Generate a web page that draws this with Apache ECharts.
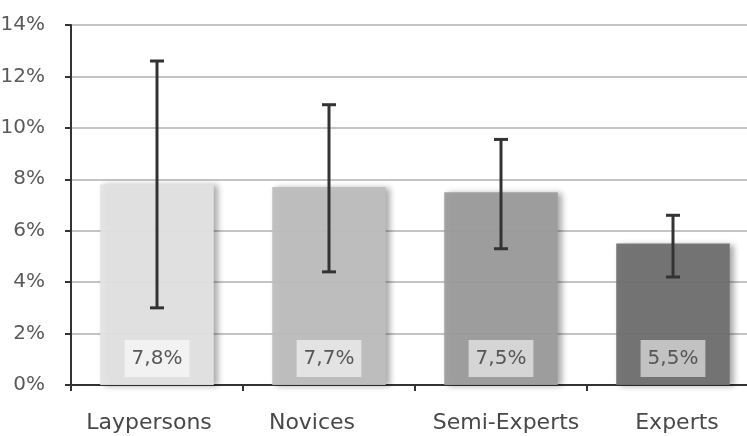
<!DOCTYPE html>
<html>
<head>
<meta charset="utf-8">
<script src="https://cdn.jsdelivr.net/npm/echarts@6/dist/echarts.min.js"></script>
<style>
  html, body { margin: 0; padding: 0; background: #fff; }
  #chart { width: 747px; height: 436px; }
</style>
</head>
<body>
<div id="chart"></div>
<script>
// data
var categories = ['Laypersons', 'Novices', 'Semi-Experts', 'Experts'];
var means = [7.8, 7.7, 7.5, 5.5];
var barLabels = ['7,8%', '7,7%', '7,5%', '5,5%'];
var errLow = [3.0, 4.4, 5.3, 4.2];
var errHigh = [12.6, 10.9, 9.55, 6.6];
var barColors = ['#e3e3e3', '#bebebe', '#9c9c9c', '#707070'];
// small horizontal nudges of the category labels, as in the original
var labelPads = [[0, 16, 0, 0], [0, 34, 0, 0], [0, 0, 0, 10], [0, 0, 0, 8]];

var chart = echarts.init(document.getElementById('chart'));

var errData = categories.map(function (c, i) {
    return [i, errLow[i], errHigh[i]];
});

var option = {
    animation: false,
    textStyle: { fontFamily: 'DejaVu Sans' },
    grid: { left: 71, top: 25, bottom: 51, width: 688, outerBoundsMode: 'none' },
    xAxis: {
        type: 'category',
        data: categories.map(function (c, i) {
            return { value: c, textStyle: { padding: labelPads[i] } };
        }),
        axisLine: { lineStyle: { color: '#333', width: 2 } },
        axisTick: { show: true, interval: 0, length: 6, alignWithLabel: false, lineStyle: { color: '#333', width: 2 } },
        axisLabel: { interval: 0, hideOverlap: false, color: '#484848', fontSize: 22, margin: 27 }
    },
    yAxis: {
        type: 'value',
        min: 0,
        max: 14,
        interval: 2,
        axisLine: { show: true, lineStyle: { color: '#333', width: 2 } },
        axisTick: { show: true, length: 6, lineStyle: { color: '#333', width: 2 } },
        axisLabel: { color: '#5a5a5a', fontSize: 20, margin: 26, formatter: '{value}%' },
        splitLine: { lineStyle: { color: '#c4c4c4', width: 2 } }
    },
    series: [
        {
            type: 'bar',
            barWidth: '66%',
            data: means.map(function (v, i) {
                return {
                    value: v,
                    itemStyle: { color: barColors[i], opacity: 0.95 }
                };
            }),
            itemStyle: {
                shadowColor: 'rgba(0,0,0,0.35)',
                shadowBlur: 6,
                shadowOffsetX: 4,
                shadowOffsetY: 1
            },
            label: {
                show: true,
                position: 'insideBottom',
                distance: 8,
                color: '#505050',
                fontSize: 20,
                padding: [9, 7, 8, 7],
                backgroundColor: 'rgba(255,255,255,0.6)',
                formatter: function (p) { return barLabels[p.dataIndex]; }
            },
            z: 2
        },
        {
            type: 'custom',
            data: errData,
            encode: { x: 0, y: [1, 2] },
            z: 5,
            renderItem: function (params, api) {
                var lo = api.coord([api.value(0), api.value(1)]);
                var hi = api.coord([api.value(0), api.value(2)]);
                var cap = 7;
                var style = { stroke: '#333', lineWidth: 3, fill: null };
                return {
                    type: 'group',
                    children: [
                        { type: 'line', shape: { x1: hi[0], y1: hi[1], x2: lo[0], y2: lo[1] }, style: style },
                        { type: 'line', shape: { x1: hi[0] - cap, y1: hi[1], x2: hi[0] + cap, y2: hi[1] }, style: style },
                        { type: 'line', shape: { x1: lo[0] - cap, y1: lo[1], x2: lo[0] + cap, y2: lo[1] }, style: style }
                    ]
                };
            }
        }
    ]
};

chart.setOption(option);
</script>
</body>
</html>
